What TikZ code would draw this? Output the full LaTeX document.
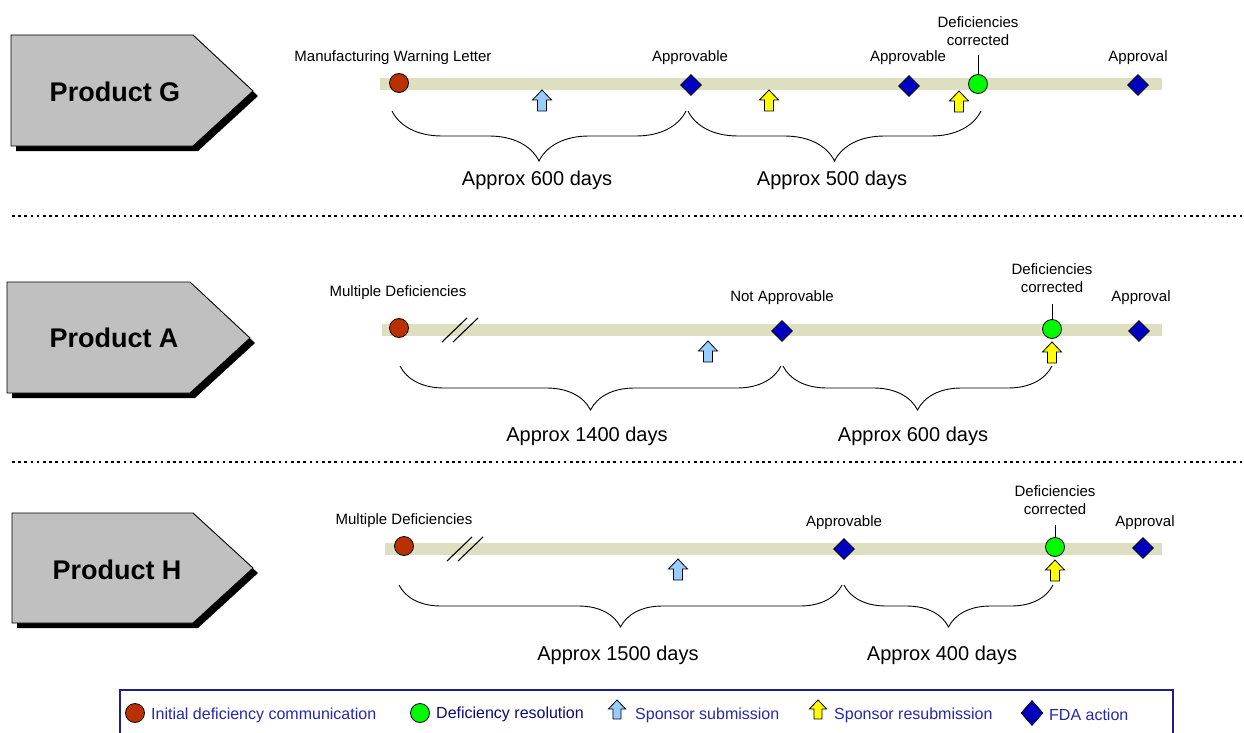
\documentclass[tikz,border=0pt]{standalone}
\usepackage{fontspec}
\setmainfont{Liberation Sans}
\usetikzlibrary{shapes.geometric,shadows,decorations.pathreplacing}
\definecolor{barcol}{RGB}{222,222,192}
\definecolor{redc}{RGB}{187,48,0}
\definecolor{greenc}{RGB}{0,250,0}
\definecolor{fdablue}{RGB}{0,0,190}
\definecolor{sublue}{RGB}{153,204,255}
\definecolor{resyellow}{RGB}{255,255,0}
\definecolor{pentcol}{RGB}{192,192,192}
\definecolor{legtext}{RGB}{40,40,170}
\definecolor{legdark}{RGB}{10,10,120}
\definecolor{legframe}{RGB}{30,30,140}
\begin{document}
\begin{tikzpicture}[x=1pt,y=-1pt,
  lbl/.style={font=\fontsize{15}{18}\selectfont, inner sep=0pt, align=center},
  apx/.style={font=\fontsize{20}{24}\selectfont, inner sep=0pt},
  prodshape/.style={draw=black, line width=0.9pt, fill=pentcol, line join=miter,
    drop shadow={shadow xshift=5pt, shadow yshift=-5pt, fill=black, opacity=1}},
  prodtxt/.style={font=\fontsize{27}{32}\selectfont\bfseries, inner sep=0pt},
  bar/.style={line width=12pt, draw=barcol},
  initc/.style={circle, draw=black, line width=0.8pt, fill=redc, minimum size=19pt, inner sep=0pt},
  resc/.style={circle, draw=black, line width=0.8pt, fill=greenc, minimum size=19pt, inner sep=0pt},
  fda/.style={diamond, draw=black, line width=0.8pt, fill=fdablue, minimum width=21pt, minimum height=21pt, inner sep=0pt},
  conn/.style={draw=black, line width=0.9pt},
  dbrace/.style={draw=black, line width=0.9pt, decorate, decoration={brace, mirror, amplitude=#1}},
  sep/.style={draw=black, line width=2.6pt, dash pattern=on 2.6pt off 3.6pt},
  brk/.style={draw=black, line width=1.1pt},
  legtxt/.style={font=\fontsize{16}{19}\selectfont, text=legtext, inner sep=0pt, anchor=west},
  pics/uparrow/.style={code={\draw[line width=0.8pt, fill=#1, line join=miter]
      (0,0) -- (9.5,10) -- (4.5,10) -- (4.5,21) -- (-4.5,21) -- (-4.5,10) -- (-9.5,10) -- cycle;}},
]
\useasboundingbox (0,0) rectangle (1244,733);
\fill[white] (0,0) rectangle (1244,733);

% ---------------- Product G ----------------
\filldraw[prodshape] (11,35) -- (193,35) -- (253,91) -- (193,146) -- (11,146) -- cycle;
\node[prodtxt] (tG) at (115,92) {Product G};
\draw[bar] (380,84) -- (1162,84);
\node[initc] (iG) at (399,83) {};
\pic at (542,90) {uparrow=sublue};
\node[fda] (f1G) at (691,85) {};
\pic at (769,90) {uparrow=resyellow};
\node[fda] (f2G) at (909,86) {};
\pic at (959,91) {uparrow=resyellow};
\node[resc] (rG) at (978,84) {};
\node[fda] (f3G) at (1138,85) {};
\node[lbl] (l1G) at (393,58) {Manufacturing Warning Letter};
\node[lbl] (l2G) at (690,58) {Approvable};
\node[lbl] (l3G) at (908,58) {Approvable};
\node[lbl] (l4G) at (978,31) {Deficiencies\\corrected};
\node[lbl] (l5G) at (1138,58) {Approval};
\coordinate (tpG) at (978,55);
\draw[conn] (rG.north) -- (tpG);
\coordinate (bG0) at (392,111);
\coordinate (bG1) at (686,111);
\coordinate (bG2) at (688,111);
\coordinate (bG3) at (981,111);
\draw[dbrace=50pt] (bG0) -- (bG1);
\draw[dbrace=50pt] (bG2) -- (bG3);
\node[apx] (aG1) at (537,180) {Approx 600 days};
\node[apx] (aG2) at (832,180) {Approx 500 days};

% separator 1
\coordinate (s1a) at (12,216);
\coordinate (s1b) at (1244,216);
\draw[sep] (s1a) -- (s1b);

% ---------------- Product A ----------------
\filldraw[prodshape] (7,282) -- (190,282) -- (250,338) -- (190,393) -- (7,393) -- cycle;
\node[prodtxt] (tA) at (114,338) {Product A};
\draw[bar] (382,330) -- (1162,330);
\node[initc] (iA) at (399,328) {};
\coordinate (k1a) at (442,342); \coordinate (k1b) at (467,318);
\coordinate (k2a) at (453,342); \coordinate (k2b) at (478,318);
\draw[brk] (k1a) -- (k1b);
\draw[brk] (k2a) -- (k2b);
\pic at (708,341) {uparrow=sublue};
\node[fda] (f1A) at (782,331) {};
\node[resc] (rA) at (1052,329) {};
\pic at (1052,342) {uparrow=resyellow};
\node[fda] (f2A) at (1139,331) {};
\node[lbl] (l1A) at (398,293) {Multiple Deficiencies};
\node[lbl] (l2A) at (782,298) {Not Approvable};
\node[lbl] (l3A) at (1052,278) {Deficiencies\\corrected};
\node[lbl] (l4A) at (1141,298) {Approval};
\coordinate (tpA) at (1052,304);
\draw[conn] (rA.north) -- (tpA);
\coordinate (bA0) at (400,366);
\coordinate (bA1) at (781,366);
\coordinate (bA2) at (783,366);
\coordinate (bA3) at (1052,366);
\draw[dbrace=44pt] (bA0) -- (bA1);
\draw[dbrace=44pt] (bA2) -- (bA3);
\node[apx] (aA1) at (587,436) {Approx 1400 days};
\node[apx] (aA2) at (913,436) {Approx 600 days};

% separator 2
\coordinate (s2a) at (12,462);
\coordinate (s2b) at (1244,462);
\draw[sep] (s2a) -- (s2b);

% ---------------- Product H ----------------
\filldraw[prodshape] (12,513) -- (193,513) -- (253,568) -- (193,623) -- (12,623) -- cycle;
\node[prodtxt] (tH) at (117,570) {Product H};
\draw[bar] (385,549) -- (1162,549);
\node[initc] (iH) at (404,546) {};
\coordinate (h1a) at (447,561); \coordinate (h1b) at (472,537);
\coordinate (h2a) at (458,561); \coordinate (h2b) at (483,537);
\draw[brk] (h1a) -- (h1b);
\draw[brk] (h2a) -- (h2b);
\pic at (678,559) {uparrow=sublue};
\node[fda] (f1H) at (844,549) {};
\node[resc] (rH) at (1055,547) {};
\pic at (1055,560) {uparrow=resyellow};
\node[fda] (f2H) at (1143,548) {};
\node[lbl] (l1H) at (404,521) {Multiple Deficiencies};
\node[lbl] (l2H) at (844,523) {Approvable};
\node[lbl] (l3H) at (1055,500) {Deficiencies\\corrected};
\node[lbl] (l4H) at (1145,523) {Approval};
\coordinate (tpH) at (1055,525);
\draw[conn] (rH.north) -- (tpH);
\coordinate (bH0) at (399,585);
\coordinate (bH1) at (842,585);
\coordinate (bH2) at (844,585);
\coordinate (bH3) at (1053,585);
\draw[dbrace=42pt] (bH0) -- (bH1);
\draw[dbrace=42pt] (bH2) -- (bH3);
\node[apx] (aH1) at (618,655) {Approx 1500 days};
\node[apx] (aH2) at (942,655) {Approx 400 days};

% ---------------- Legend ----------------
\draw[draw=legframe, line width=1.4pt] (120,690) rectangle (1173,760);
\node[initc] (li) at (135,713) {};
\node[legtxt] (lt1) at (151,715) {Initial deficiency communication};
\node[resc] (lr) at (420,713) {};
\node[legtxt, text=legdark] (lt2) at (436,714) {Deficiency resolution};
\pic[scale=0.9] at (617,700) {uparrow=sublue};
\node[legtxt] (lt3) at (635,715) {Sponsor submission};
\pic[scale=0.9] at (818,700) {uparrow=resyellow};
\node[legtxt] (lt4) at (834,715) {Sponsor resubmission};
\node[fda, minimum width=22pt, minimum height=25pt] (lf) at (1032,713) {};
\node[legtxt] (lt5) at (1049,715) {FDA action};
\end{tikzpicture}
\end{document}
